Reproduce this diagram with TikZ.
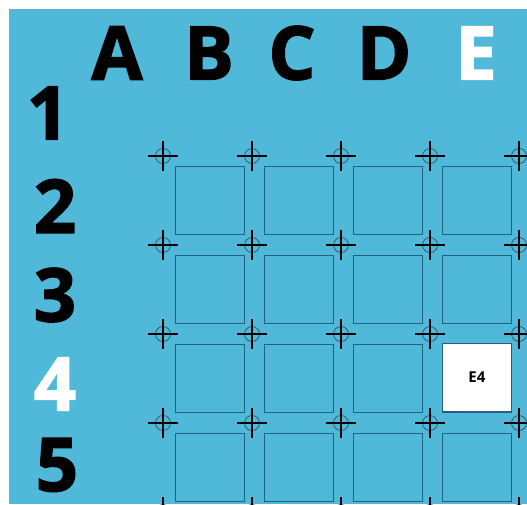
\documentclass[tikz,border=0pt]{standalone}
\usepackage{fontspec}
\setmainfont{Open Sans}
\newfontfamily\heavyfont[BoldFeatures={FakeBold=2}]{Open Sans}
\usepackage{xcolor}
\usetikzlibrary{positioning}
\definecolor{skyblue}{RGB}{80, 185, 217}
\definecolor{celledge}{RGB}{30, 100, 130}
\definecolor{ringgray}{RGB}{45, 90, 110}

\begin{document}
\begin{tikzpicture}[
					x=1pt, y=-1pt,
					headlabel/.style={font=\fontsize{74}{74}\selectfont\heavyfont\bfseries, inner sep=0pt, text=black},
					cell/.style={draw=celledge, line width=0.8pt, minimum width=69pt, minimum height=68pt, inner sep=0pt, anchor=north west},
					target/.style={cell, fill=white, font=\fontsize{15}{15}\selectfont\bfseries},
					ring/.style={draw=ringgray, line width=0.8pt},
					hair/.style={draw=black, line width=1.7pt}
				]

				\useasboundingbox (0,0) rectangle (527,504);
				\clip (0,0) rectangle (527,504);
				\fill[skyblue] (9,9) rectangle (527,504);

				% 1. Column letters
				\node[headlabel] (colA) at (117,53) {A};
				\node[headlabel] (colB) at (209,53) {B};
				\node[headlabel] (colC) at (292,53) {C};
				\node[headlabel] (colD) at (384,53) {D};
				\node[headlabel, text=white] (colE) at (476,53) {E};

				% 2. Row numbers
				\node[headlabel] (row1) at (48,113) {1};
				\node[headlabel] (row2) at (55,206) {2};
				\node[headlabel] (row3) at (55,295) {3};
				\node[headlabel, text=white] (row4) at (55,384) {4};
				\node[headlabel] (row5) at (57,465) {5};

				% 3. Cells
				\foreach \col [count=\i from 0] in {B,C,D,E}
					\foreach \row [count=\j from 0] in {2,3,4,5}
						\node[cell] (cell\col\row) at (175+89*\i, 166+89*\j) {};
				\node[target] (cellE4) at (442,343) {E4};

				% 4. Crosshairs
				\foreach \i in {0,...,4}
					\foreach \j in {0,...,4} {
						\coordinate (mark\i\j) at (163+89*\i, 156+89*\j);
						\draw[ring] (mark\i\j) circle (7.5);
						\draw[hair] ([xshift=-15pt]mark\i\j) -- ([xshift=15pt]mark\i\j);
						\draw[hair] ([yshift=-15pt]mark\i\j) -- ([yshift=15pt]mark\i\j);
					}

			\end{tikzpicture}
\end{document}
